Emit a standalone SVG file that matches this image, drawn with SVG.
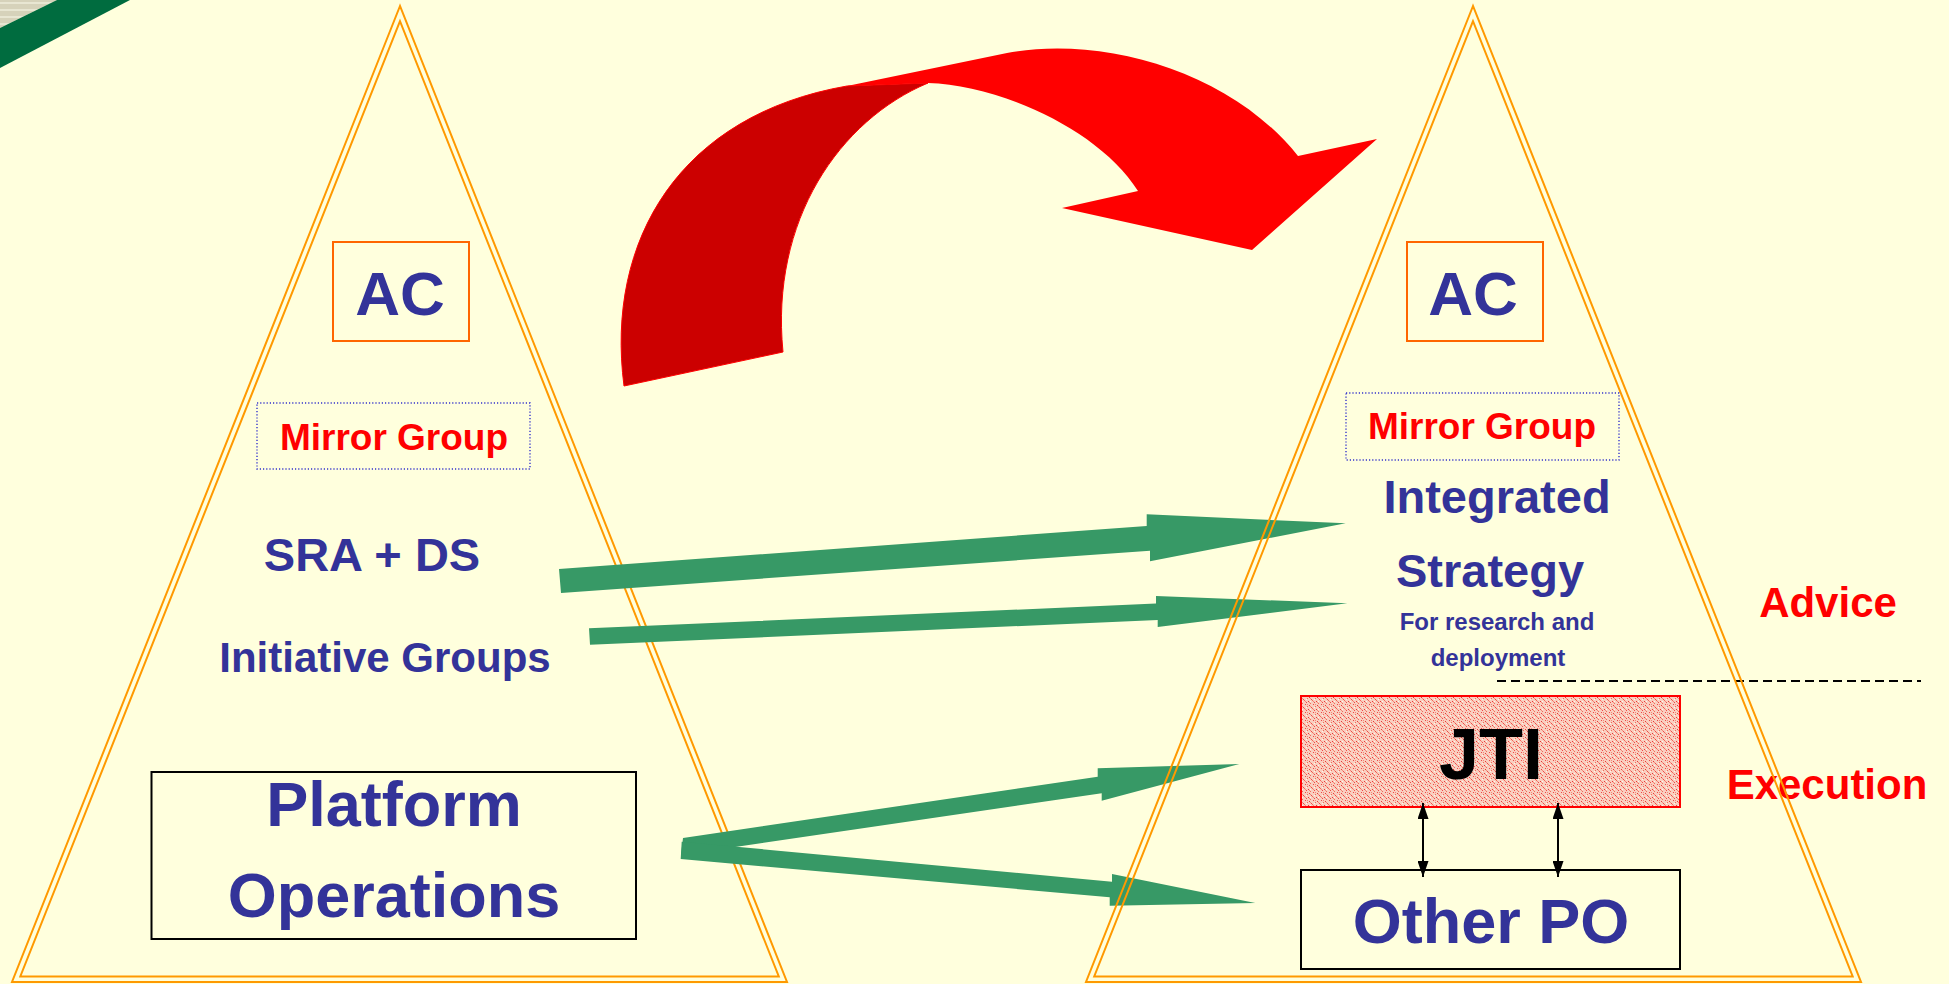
<svg xmlns="http://www.w3.org/2000/svg" width="1949" height="984" viewBox="0 0 1949 984">
  <defs>
    <style>
      .tri { fill: none; stroke: #FF9900; stroke-width: 2; stroke-linejoin: miter; }
      .txt { font-family: "Liberation Sans", Arial, sans-serif; font-weight: bold; text-anchor: middle; }
      .navy { fill: #333399; }
      .red { fill: #FF0000; }
      .blk { fill: #000000; }
      .acbox { fill: none; stroke: #FF6600; stroke-width: 2; }
      .mirror { fill: none; stroke: #3333CC; stroke-width: 1.4; stroke-dasharray: 1.2 2; }
      .box { fill: none; stroke: #000000; stroke-width: 2; }
      .green { fill: #379966; }
      .dbl { stroke: #000000; stroke-width: 2; fill: none; marker-start: url(#ah); marker-end: url(#ah); }
    </style>
    <marker id="ah" viewBox="0 0 16 11" refX="16" refY="5.5" markerWidth="16" markerHeight="11" markerUnits="userSpaceOnUse" orient="auto-start-reverse">
      <path d="M0,0 L16,5.5 L0,11 Z" fill="#000000"/>
    </marker>
    <pattern id="stripes" width="7" height="7" patternUnits="userSpaceOnUse">
      <rect width="7" height="7" fill="#D6D2BA"/>
      <rect y="2" width="7" height="2" fill="#E8E6D2"/>
    </pattern>
    <pattern id="speckle" width="8" height="8" patternUnits="userSpaceOnUse">
      <rect width="8" height="8" fill="#F9CFC0"/>
      <rect x="1" y="0" width="1" height="1" fill="#F04848"/>
      <rect x="5" y="1" width="1" height="1" fill="#E83838"/>
      <rect x="3" y="2" width="1" height="1" fill="#F26A5A"/>
      <rect x="7" y="3" width="1" height="1" fill="#F04848"/>
      <rect x="0" y="4" width="1" height="1" fill="#F26A5A"/>
      <rect x="4" y="5" width="1" height="1" fill="#E83838"/>
      <rect x="2" y="6" width="1" height="1" fill="#F04848"/>
      <rect x="6" y="7" width="1" height="1" fill="#F26A5A"/>
      <rect x="3" y="0" width="1" height="1" fill="#F58878"/>
      <rect x="6" y="2" width="1" height="1" fill="#F58878"/>
      <rect x="1" y="5" width="1" height="1" fill="#F58878"/>
      <rect x="5" y="6" width="1" height="1" fill="#F58878"/>
      <rect x="6" y="5" width="1" height="1" fill="#FFF6EC"/>
      <rect x="2" y="3" width="1" height="1" fill="#FFF6EC"/>
    </pattern>
  </defs>

  <rect x="0" y="0" width="1949" height="984" fill="#FFFFDD"/>

  <g id="corner">
    <polygon points="0,0 57,0 0,28" fill="url(#stripes)"/>
    <polygon points="57,0 130,0 0,68 0,28" fill="#006C3F"/>
  </g>

  <g id="left-pyramid">
    <polygon class="tri" points="400,6 12,982 787,982"/>
    <polygon class="tri" points="400,21.2 20.3,976.5 778.8,976.5"/>
  </g>

  <g id="node-ac-left">
    <rect class="acbox" x="333" y="242" width="136" height="99"/>
    <text class="txt navy" x="400" y="315" font-size="62">AC</text>
  </g>
  <g id="node-mirror-left">
    <rect class="mirror" x="257" y="403" width="273" height="66"/>
    <text class="txt red" x="394" y="450" font-size="37">Mirror Group</text>
  </g>
  <g id="node-sra">
    <text class="txt navy" x="372" y="571" font-size="47">SRA + DS</text>
  </g>
  <g id="node-initiative">
    <text class="txt navy" x="385" y="672" font-size="42">Initiative Groups</text>
  </g>
  <g id="node-platform">
    <rect class="box" x="151.5" y="772" width="484.5" height="167"/>
    <text class="txt navy" x="394" y="826" font-size="63">Platform</text>
    <text class="txt navy" x="394" y="917" font-size="63">Operations</text>
  </g>

  <g id="node-ac-right">
    <rect class="acbox" x="1407" y="242" width="136" height="99"/>
    <text class="txt navy" x="1473" y="315" font-size="62">AC</text>
  </g>
  <g id="node-mirror-right">
    <rect class="mirror" x="1346" y="393" width="273" height="67"/>
    <text class="txt red" x="1482" y="439" font-size="37">Mirror Group</text>
  </g>
  <g id="node-strategy">
    <text class="txt navy" x="1497" y="513" font-size="47">Integrated</text>
    <text class="txt navy" x="1490" y="587" font-size="47">Strategy</text>
    <text class="txt navy" x="1497" y="630" font-size="24">For research and</text>
    <text class="txt navy" x="1498" y="666" font-size="24">deployment</text>
  </g>
  <g id="divider">
    <line x1="1497" y1="681" x2="1921" y2="681" stroke="#000000" stroke-width="2" stroke-dasharray="9 5"/>
  </g>
  <g id="label-advice">
    <text class="txt red" x="1828" y="617" font-size="42">Advice</text>
  </g>
  <g id="label-execution">
    <text class="txt red" x="1827" y="799" font-size="42">Execution</text>
  </g>
  <g id="node-jti">
    <rect x="1301" y="696" width="379" height="111" fill="url(#speckle)" stroke="#FF0000" stroke-width="2"/>
    <text class="txt blk" x="1491" y="779" font-size="72">JTI</text>
  </g>
  <g id="node-otherpo">
    <rect class="box" x="1301" y="870" width="379" height="99"/>
    <text class="txt navy" x="1491" y="943" font-size="63">Other PO</text>
  </g>

  <g id="connectors">
    <g id="red-curved-arrow">
      <path d="M624,386 C605,240 680,115 847,86 L928,83 C840,120 770,220 783,352 Z" fill="#CC0000" stroke="#FF0000" stroke-width="1"/>
      <path d="M847,86 L1007,53 C1100,35 1230,70 1298,156 L1377,139 L1252,250 L1062,208 L1138,191 C1100,130 1000,85 928,83 Z" fill="#FF0000"/>
    </g>
    <polygon class="green" points="559,569 561,593 1150,550.7 1150,561.3 1345.7,523.3 1146.7,514.3 1146.7,526"/>
    <polygon class="green" points="589,628.3 590,644.7 1157.7,620 1157.7,627 1347.3,603.3 1156,596 1156,603.6"/>
    <polygon class="green" points="683,838 681,855 1101.7,793.3 1101.7,800.7 1239.3,764 1097.7,768.3 1097.7,776.7"/>
    <polygon class="green" points="681.7,841.7 680.7,859 1109.7,897.3 1109.7,905.7 1255.3,903 1112,874 1112,881.7"/>
    <line class="dbl" x1="1423" y1="803" x2="1423" y2="877"/>
    <line class="dbl" x1="1558" y1="803" x2="1558" y2="877"/>
  </g>

  <g id="right-pyramid">
    <polygon class="tri" points="1473,6 1086,982 1861,982"/>
    <polygon class="tri" points="1473,21.2 1094.2,976.5 1852.7,976.5"/>
  </g>
</svg>
